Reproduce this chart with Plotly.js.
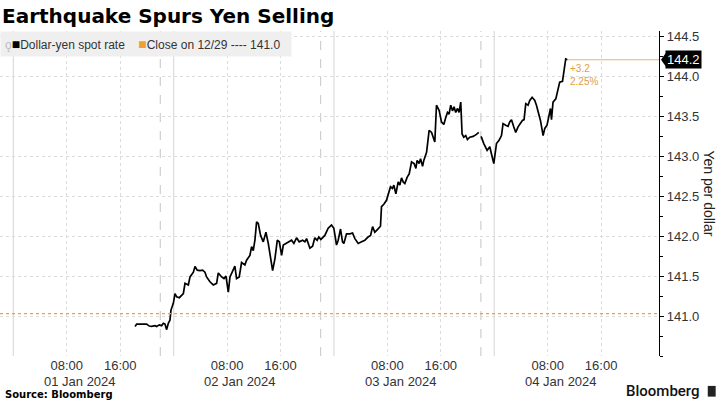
<!DOCTYPE html>
<html>
<head>
<meta charset="utf-8">
<script src="https://cdn.plot.ly/plotly-3.0.1.min.js"></script>
<style>
  html, body { margin: 0; padding: 0; background: #fff; }
  #chart { width: 720px; height: 405px; }
</style>
</head>
<body>
<div id="chart"></div>
<script>
// Dollar-yen spot rate (null = session break)
const times = [
  "2024-01-01 18:13", "2024-01-01 18:28", "2024-01-01 19:57", "2024-01-01 20:21", "2024-01-01 20:42",
  "2024-01-01 21:12", "2024-01-01 21:27", "2024-01-01 21:51", "2024-01-01 22:12", "2024-01-01 22:27",
  "2024-01-01 22:42", "2024-01-01 22:57", "2024-01-01 23:12", "2024-01-01 23:27", "2024-01-01 23:36",
  "2024-01-01 23:57",
  "2024-01-02 00:12", "2024-01-02 00:27", "2024-01-02 00:51", "2024-01-02 01:27", "2024-01-02 01:42",
  "2024-01-02 02:12", "2024-01-02 02:27", "2024-01-02 02:57", "2024-01-02 03:12", "2024-01-02 03:32",
  "2024-01-02 03:56", "2024-01-02 04:20", "2024-01-02 04:41", "2024-01-02 04:56", "2024-01-02 05:26",
  "2024-01-02 05:56", "2024-01-02 06:26", "2024-01-02 06:41", "2024-01-02 07:11", "2024-01-02 07:32",
  "2024-01-02 07:50", "2024-01-02 08:11", "2024-01-02 08:26", "2024-01-02 08:55", "2024-01-02 09:10",
  "2024-01-02 09:25", "2024-01-02 09:49", "2024-01-02 10:10", "2024-01-02 10:40", "2024-01-02 10:55",
  "2024-01-02 11:25", "2024-01-02 11:40", "2024-01-02 11:55", "2024-01-02 12:10", "2024-01-02 12:25",
  "2024-01-02 12:40", "2024-01-02 13:01", "2024-01-02 13:25", "2024-01-02 13:49", "2024-01-02 14:10",
  "2024-01-02 14:31", "2024-01-02 14:49", "2024-01-02 15:10", "2024-01-02 15:31", "2024-01-02 15:49",
  "2024-01-02 16:10", "2024-01-02 16:25", "2024-01-02 16:54", "2024-01-02 17:39", "2024-01-02 18:00",
  "2024-01-02 18:24", "2024-01-02 18:48", "2024-01-02 19:18", "2024-01-02 19:39", "2024-01-02 19:54",
  "2024-01-02 20:24", "2024-01-02 20:48", "2024-01-02 21:08", "2024-01-02 21:29", "2024-01-02 21:44",
  "2024-01-02 22:02", "2024-01-02 22:38", "2024-01-02 23:08", "2024-01-02 23:38", "2024-01-02 23:59",
  "2024-01-03 00:23", "2024-01-03 00:38", "2024-01-03 00:59", "2024-01-03 01:17", "2024-01-03 01:29",
  "2024-01-03 01:53", "2024-01-03 02:23", "2024-01-03 02:47", "2024-01-03 03:08", "2024-01-03 03:38",
  "2024-01-03 04:08", "2024-01-03 04:38", "2024-01-03 05:07", "2024-01-03 05:29", "2024-01-03 05:47",
  "2024-01-03 06:07", "2024-01-03 06:28", "2024-01-03 06:58", "2024-01-03 07:07", "2024-01-03 07:28",
  "2024-01-03 07:52", "2024-01-03 08:07", "2024-01-03 08:28", "2024-01-03 08:46", "2024-01-03 08:58",
  "2024-01-03 09:16", "2024-01-03 09:37", "2024-01-03 09:52", "2024-01-03 10:07", "2024-01-03 10:22",
  "2024-01-03 10:37", "2024-01-03 10:58", "2024-01-03 11:16", "2024-01-03 11:37", "2024-01-03 12:00",
  "2024-01-03 12:16", "2024-01-03 12:27", "2024-01-03 12:45", "2024-01-03 12:58", "2024-01-03 13:16",
  "2024-01-03 13:27", "2024-01-03 13:52", "2024-01-03 14:15", "2024-01-03 14:37", "2024-01-03 14:51",
  "2024-01-03 15:06", "2024-01-03 15:21", "2024-01-03 15:45", "2024-01-03 16:06", "2024-01-03 16:27",
  "2024-01-03 16:45", "2024-01-03 17:00", "2024-01-03 17:14", "2024-01-03 17:29", "2024-01-03 17:45",
  "2024-01-03 17:59", "2024-01-03 18:14", "2024-01-03 18:30", "2024-01-03 18:44", "2024-01-03 18:59",
  "2024-01-03 19:11", "2024-01-03 19:26", "2024-01-03 19:44", "2024-01-03 19:59", "2024-01-03 20:20",
  "2024-01-03 20:50", "2024-01-03 21:20", "2024-01-03 21:41", "2024-01-03 21:50",
  "2024-01-03 22:02", "2024-01-03 22:26", "2024-01-03 22:56", "2024-01-03 23:20", "2024-01-03 23:35",
  "2024-01-03 23:56",
  "2024-01-04 00:20", "2024-01-04 00:43", "2024-01-04 01:05", "2024-01-04 01:19", "2024-01-04 01:43",
  "2024-01-04 02:04", "2024-01-04 02:19", "2024-01-04 02:35", "2024-01-04 02:55", "2024-01-04 03:13",
  "2024-01-04 03:34", "2024-01-04 03:55", "2024-01-04 04:13", "2024-01-04 04:28", "2024-01-04 04:43",
  "2024-01-04 05:04", "2024-01-04 05:19", "2024-01-04 05:40", "2024-01-04 06:04", "2024-01-04 06:19",
  "2024-01-04 06:34", "2024-01-04 06:55", "2024-01-04 07:19", "2024-01-04 07:34", "2024-01-04 07:54",
  "2024-01-04 08:12", "2024-01-04 08:25", "2024-01-04 08:34", "2024-01-04 08:48", "2024-01-04 09:13",
  "2024-01-04 09:33", "2024-01-04 09:48", "2024-01-04 10:13", "2024-01-04 10:24", "2024-01-04 10:42",
  "2024-01-04 10:58"
];
const rates = [
  140.87, 140.90, 140.90, 140.875, 140.87,
  140.88, 140.87, 140.89, 140.88, 140.91,
  140.90, 140.83, 140.91, 140.95, 141.075,
  141.16,
  141.28, 141.24, 141.23, 141.28, 141.41,
  141.39, 141.49, 141.55, 141.62, 141.575,
  141.57, 141.575, 141.55, 141.49, 141.43,
  141.39, 141.41, 141.54, 141.49, 141.47,
  141.50, 141.30, 141.49, 141.575, 141.625,
  141.47, 141.49, 141.67, 141.64, 141.70,
  141.76, 141.87, 141.82, 141.95, 142.18,
  142.16, 142.01, 141.93, 142.05, 141.91,
  141.74, 141.57, 141.72, 141.95, 141.93,
  141.76, 141.89, 141.91, 141.95, 141.91,
  141.98, 141.93, 141.95, 141.93, 141.97,
  141.85, 141.875, 141.98, 141.95, 141.99,
  141.96, 142.01, 142.10, 142.14, 142.10,
  141.89, 141.95, 142.09, 141.93, 141.91,
  142.03, 142.03, 142.04, 141.97, 141.91,
  141.93, 141.95, 141.99, 142.01, 142.12,
  142.05, 142.08, 142.125, 142.37, 142.40,
  142.45, 142.53, 142.62, 142.60, 142.64,
  142.53, 142.68, 142.64, 142.73, 142.68,
  142.66, 142.74, 142.78, 142.93, 142.91,
  142.85, 142.95, 142.91, 142.97, 142.875,
  142.95, 143.05, 143.325, 143.30, 143.24,
  143.18, 143.64, 143.575, 143.43, 143.40,
  143.49, 143.55, 143.53, 143.64, 143.57,
  143.62, 143.55, 143.60, 143.55, 143.68,
  143.28, 143.24, 143.26, 143.21, 143.24,
  143.25, 143.275, 143.30, null,
  143.25, 143.16, 143.075, 143.12, 143.03,
  142.91,
  143.16, 143.20, 143.26, 143.41, 143.39,
  143.375, 143.43, 143.46, 143.37, 143.30,
  143.37, 143.41, 143.45, 143.46, 143.66,
  143.64, 143.70, 143.74, 143.70, 143.64,
  143.55, 143.45, 143.26, 143.35, 143.39,
  143.53, 143.60, 143.46, 143.68, 143.72,
  143.825, 143.93, 143.94, 144.03, 144.22,
  144.21
];

// reference: close on 12/29
const closeValue = 141.03;

// x axis ticks
const tickTimes = [
  "2024-01-01 08:00", "2024-01-01 16:00", "2024-01-02 08:00", "2024-01-02 16:00",
  "2024-01-03 08:00", "2024-01-03 16:00", "2024-01-04 08:00", "2024-01-04 16:00"
];
const tickLabels = ["08:00", "16:00", "08:00", "16:00", "08:00", "16:00", "08:00", "16:00"];
const dayLabelTimes = ["2024-01-01 10:00", "2024-01-02 10:00", "2024-01-03 10:00", "2024-01-04 10:00"];
const dayLabels = ["01 Jan 2024", "02 Jan 2024", "03 Jan 2024", "04 Jan 2024"];
const midnights = ["2024-01-01 00:00", "2024-01-02 00:00", "2024-01-03 00:00", "2024-01-04 00:00"];
const sessionBreaks = ["2024-01-01 22:00", "2024-01-02 22:00", "2024-01-03 22:00"];

// y axis ticks
const yTicks = [141.0, 141.5, 142.0, 142.5, 143.0, 143.5, 144.0, 144.5];

const xStart = "2023-12-31 22:00";
const xEnd = "2024-01-05 00:40";

const lastTime = times[times.length - 1];
const lastValue = rates[rates.length - 1];
const change = lastValue - closeValue;
const pct = change / closeValue * 100;

const orange = "#f0a030";
const tickFont = { family: "Liberation Sans, Arial, sans-serif", size: 13, color: "#333" };

const spot = {
  x: times,
  y: rates,
  type: "scatter",
  mode: "lines",
  line: { color: "#000", width: 1.7 },
  connectgaps: false,
  hoverinfo: "x+y"
};

const shapes = [];
midnights.forEach(t => shapes.push({
  type: "line", xref: "x", yref: "paper", x0: t, x1: t, y0: 0, y1: 1,
  line: { color: "#dedede", width: 1.3 }, layer: "below"
}));
sessionBreaks.forEach(t => shapes.push({
  type: "line", xref: "x", yref: "paper", x0: t, x1: t, y0: 0, y1: 1,
  line: { color: "#cfcfcf", width: 1.2, dash: "dash" }, layer: "below"
}));
// close on 12/29
shapes.push({
  type: "line", xref: "paper", yref: "y", x0: 0, x1: 1, y0: closeValue, y1: closeValue,
  line: { color: orange, width: 1.3, dash: "dot" }
});
// last value guide
shapes.push({
  type: "line", xref: "x", yref: "y", x0: lastTime, x1: xEnd, y0: lastValue, y1: lastValue,
  line: { color: "#e6b96a", width: 1 }
});
// pointer of the last value tag
shapes.push({
  type: "path", xref: "paper", yref: "y", xsizemode: "pixel", ysizemode: "pixel",
  xanchor: 1, yanchor: lastValue,
  path: "M 2 0 L 7 -7 L 7 7 Z",
  fillcolor: "#000", line: { width: 0 }
});
// Bloomberg logo mark
shapes.push({
  type: "rect", xref: "paper", yref: "paper", x0: 1.074, x1: 1.086, y0: -0.125, y1: -0.092,
  fillcolor: "#222", line: { width: 0 }
});

const annotations = [];
dayLabelTimes.forEach((t, i) => annotations.push({
  x: t, xref: "x", y: 0, yref: "paper", yanchor: "top", xanchor: "center",
  yshift: -16, text: dayLabels[i], showarrow: false, font: tickFont
}));
annotations.push({
  x: 0, xref: "paper", y: 1, yref: "paper", xanchor: "left", yanchor: "top",
  text: "<span style='color:#bbb'>ǫ</span><span style='color:#000;font-size:14px'>■</span>Dollar-yen spot rate    " +
        "<span style='color:" + orange + ";font-size:14px'>■</span>Close on 12/29 ---- " + closeValue.toFixed(1) + "  ",
  showarrow: false, bgcolor: "#efefef", borderpad: 4,
  font: { family: "Liberation Sans, Arial, sans-serif", size: 12, color: "#333" }
});
annotations.push({
  x: 1, xref: "paper", y: lastValue, yref: "y", xanchor: "left", yanchor: "middle",
  xshift: 6, text: lastValue.toFixed(1), showarrow: false, bgcolor: "#000", borderpad: 1,
  font: { family: "Liberation Sans, Arial, sans-serif", size: 13, color: "#fff" }
});
annotations.push({
  x: lastTime, xref: "x", y: lastValue, yref: "y", xanchor: "left", yanchor: "top",
  xshift: 0, yshift: -1, align: "left",
  text: "+" + change.toFixed(1) + "<br>" + pct.toFixed(2) + "%",
  showarrow: false, font: { family: "Liberation Sans, Arial, sans-serif", size: 10, color: "#e0a040" }
});
annotations.push({
  x: 1, xref: "paper", y: 0.5, yref: "paper", xanchor: "center", yanchor: "middle",
  xshift: 50, text: "Yen per dollar", textangle: 90, showarrow: false,
  font: { family: "Liberation Sans, Arial, sans-serif", size: 14, color: "#222" }
});
annotations.push({
  x: 0, xref: "paper", y: 0, yref: "paper", xanchor: "left", yanchor: "bottom",
  xshift: 3, yshift: -46, text: "<b>Source: Bloomberg</b>", showarrow: false,
  font: { family: "DejaVu Sans, sans-serif", size: 10, color: "#000" }
});
annotations.push({
  x: 1, xref: "paper", y: 0, yref: "paper", xanchor: "right", yanchor: "bottom",
  xshift: 43, yshift: -46, text: "Bloomberg", showarrow: false,
  font: { family: "Roboto, sans-serif", size: 15, color: "#111", weight: 500 }
});

const layout = {
  width: 720,
  height: 405,
  margin: { l: 0, r: 61, t: 31, b: 49 },
  paper_bgcolor: "#fff",
  plot_bgcolor: "#fff",
  showlegend: false,
  title: {
    text: "<b>Earthquake Spurs Yen Selling</b>",
    x: 2 / 720, xanchor: "left", xref: "container",
    y: 1 - 16 / 405, yanchor: "middle", yref: "container",
    font: { family: "DejaVu Sans, sans-serif", size: 20, color: "#000" }
  },
  xaxis: {
    type: "date",
    range: [xStart, xEnd],
    tickvals: tickTimes,
    ticktext: tickLabels,
    tickfont: tickFont,
    showgrid: true,
    gridcolor: "#dcdcdc",
    griddash: "dot",
    gridwidth: 1,
    ticks: "",
    showline: false,
    zeroline: false,
    fixedrange: true
  },
  yaxis: {
    side: "right",
    range: [140.5, 144.57],
    tickvals: yTicks,
    ticktext: yTicks.map(v => v.toFixed(1)),
    tickfont: tickFont,
    showgrid: true,
    gridcolor: "#dcdcdc",
    griddash: "dot",
    ticks: "outside",
    ticklen: 4,
    tickcolor: "#000",
    showline: true,
    linecolor: "#000",
    linewidth: 1.2,
    minor: { dtick: 0.25, ticks: "outside", ticklen: 3, tickcolor: "#000", showgrid: false },
    zeroline: false,
    fixedrange: true
  },
  shapes: shapes,
  annotations: annotations
};

Plotly.newPlot("chart", [spot], layout, { displayModeBar: false, staticPlot: true });
</script>
</body>
</html>
